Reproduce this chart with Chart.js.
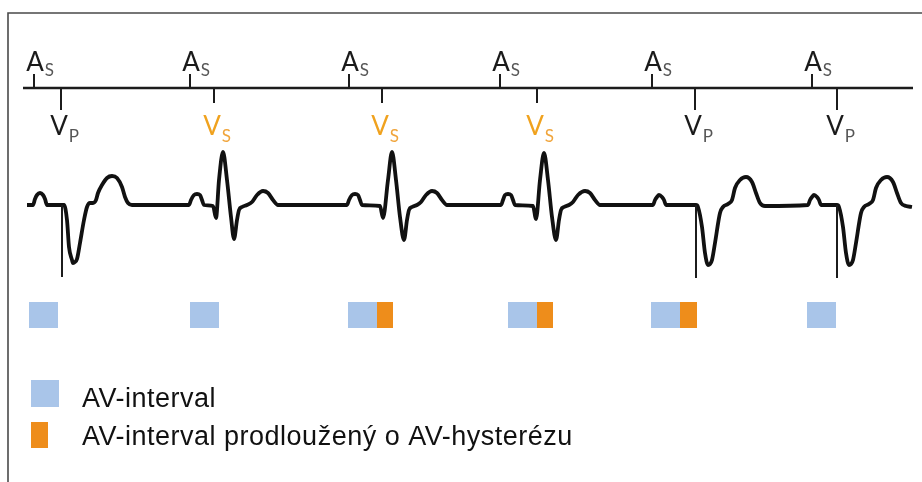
<!DOCTYPE html>
<html>
<head>
<meta charset="utf-8">
<script src="https://cdn.jsdelivr.net/npm/chart.js@4.4.1/dist/chart.umd.min.js"></script>
<style>
  html, body { margin: 0; padding: 0; background: #fff; }
  #wrap { position: relative; width: 922px; height: 482px; }
</style>
</head>
<body>
<div id="wrap"><canvas id="ecg" width="922" height="482"></canvas></div>
<script>
/* ---------- Data (time in ms, amplitude in mV) ---------- */
const ECG_T = [
  // beat 1 (paced)
  135, 165, 175, 185, 200, 215, 225, 235, 310, 320, 335, 345, 360, 365, 375, 385, 400, 420, 435, 450, 465, 480,
  490, 510, 535, 560, 585, 610, 625, 640, 660,
  // beat 2 (sensed)
  945, 955, 970, 985, 1000, 1010, 1020, 1065, 1080, 1095, 1115, 1135, 1155, 1170, 1185, 1195, 1210, 1235,
  1260, 1285, 1315, 1340, 1365, 1390,
  // beat 3 (sensed)
  1735, 1745, 1760, 1775, 1790, 1800, 1810, 1900, 1915, 1940, 1960, 1980, 2000, 2020, 2035, 2045, 2060, 2085,
  2105, 2130, 2160, 2185, 2210, 2235,
  // beat 4 (sensed)
  2505, 2515, 2525, 2540, 2555, 2565, 2575, 2665, 2680, 2700, 2720, 2740, 2760, 2780, 2795, 2805, 2820, 2845,
  2865, 2890, 2925, 2950, 2975, 3000,
  // beat 5 (paced)
  3265, 3275, 3285, 3295, 3310, 3320, 3330, 3480, 3490, 3510, 3525, 3540, 3550, 3560, 3575, 3600, 3615, 3640, 3660,
  3675, 3700, 3730, 3760, 3780, 3800, 3825,
  // beat 6 (paced)
  4040, 4050, 4060, 4070, 4085, 4095, 4105, 4185, 4195, 4215, 4230, 4245, 4255, 4265, 4280, 4305, 4320, 4345, 4365,
  4380, 4405, 4435, 4465, 4485, 4505, 4530, 4560
];
const ECG_MV = [
  0, 0, 0.12, 0.2, 0.24, 0.2, 0.12, 0, 0, 0, -0.3, -0.84, -1.1, -1.16, -1.14, -1.08, -0.76, -0.3, -0.04, 0.04, 0.04, 0.1,
  0.24, 0.4, 0.54, 0.58, 0.54, 0.36, 0.16, 0.04, 0,
  0, 0.1, 0.2, 0.22, 0.2, 0.1, 0, -0.02, -0.26, 0.5, 1.06, 0.5, -0.24, -0.68, -0.3, -0.1, -0.04, 0,
  0.06, 0.2, 0.28, 0.24, 0.1, 0,
  0, 0.1, 0.2, 0.22, 0.2, 0.1, 0, -0.02, -0.26, 0.5, 1.06, 0.5, -0.24, -0.7, -0.3, -0.1, -0.04, 0,
  0.06, 0.2, 0.28, 0.24, 0.1, 0,
  0, 0.1, 0.2, 0.22, 0.2, 0.1, 0, -0.02, -0.28, 0.5, 1.04, 0.5, -0.24, -0.7, -0.3, -0.1, -0.04, 0,
  0.06, 0.2, 0.28, 0.24, 0.1, 0,
  0, 0.1, 0.16, 0.2, 0.16, 0.1, 0, 0, -0.04, -0.44, -0.96, -1.2, -1.18, -1.1, -0.76, -0.16, -0.04, 0.02, 0.1,
  0.34, 0.5, 0.56, 0.46, 0.24, 0.04, -0.02,
  0, 0.1, 0.16, 0.2, 0.16, 0.1, 0, 0, -0.04, -0.44, -0.96, -1.2, -1.18, -1.1, -0.76, -0.16, -0.04, 0.02, 0.1,
  0.34, 0.5, 0.56, 0.46, 0.24, 0.04, -0.02, -0.04
];

// markers on the event line
const ATRIAL_T = [170, 950, 1745, 2500, 3260, 4060];
const ATRIAL_LABEL = ["S", "S", "S", "S", "S", "S"];
const VENT_T = [305, 1070, 1910, 2685, 3475, 4185];
const VENT_LABEL = ["P", "S", "S", "S", "P", "P"];

// pacing spikes (ms) and their depth (mV)
const SPIKE_T = [310, 3480, 4185];
const SPIKE_MV = [-1.44, -1.46, -1.46];

// AV interval bars
const AV_START = [145, 950, 1740, 2540, 3255, 4035];
const AV_END = [290, 1095, 1885, 2685, 3400, 4180];
const HYST_START = [1885, 2685, 3400];
const HYST_END = [1965, 2765, 3485];

const LEGEND_TEXT = ["AV-interval", "AV-interval prodloužený o AV-hysterézu"];

/* ---------- Layout / style ---------- */
const LINE_MV = 2.34;      // event line level
const A_TICK_TOP = 2.62;
const V_TICK_P = 1.9;
const V_TICK_S = 2.04;
const BAR_MV = -2.2;
const BLUE = "#a9c5e9";
const ORANGE = "#ee8d1b";
const INK = "#1c1c1c";

function segs(list) {
  // list of [x0,y0,x1,y1] -> points with gaps
  const out = [];
  list.forEach(s => {
    out.push({x: s[0], y: s[1]}, {x: s[2], y: s[3]}, {x: s[2], y: null});
  });
  return out;
}

const ecgData = ECG_T.map((t, i) => ({x: t, y: ECG_MV[i]}));
const atrialTicks = segs(ATRIAL_T.map(t => [t, LINE_MV, t, A_TICK_TOP]));
const ventTicks = segs(VENT_T.map((t, i) => [t, LINE_MV, t, VENT_LABEL[i] === "P" ? V_TICK_P : V_TICK_S]));
const spikes = segs(SPIKE_T.map((t, i) => [t, 0, t, SPIKE_MV[i]]));
const avBars = segs(AV_START.map((s, i) => [s, BAR_MV, AV_END[i], BAR_MV]));
const hystBars = segs(HYST_START.map((s, i) => [s, BAR_MV, HYST_END[i], BAR_MV]));

/* ---------- Plugins ---------- */
const framePlugin = {
  id: "frame",
  beforeDraw(chart) {
    const ctx = chart.ctx;
    ctx.save();
    ctx.fillStyle = "#fff";
    ctx.fillRect(0, 0, chart.width, chart.height);
    ctx.strokeStyle = "#4a4a4a";
    ctx.lineWidth = 1.6;
    ctx.beginPath();
    ctx.moveTo(8, chart.height);
    ctx.lineTo(8, 13);
    ctx.lineTo(chart.width, 13);
    ctx.stroke();
    ctx.restore();
  }
};

function subLabel(ctx, main, sub, cx, base, subBase, mainColor, subColor) {
  ctx.font = "26px Lato";
  const w = ctx.measureText(main).width;
  ctx.fillStyle = mainColor;
  ctx.textAlign = "left";
  ctx.textBaseline = "alphabetic";
  ctx.fillText(main, cx - w / 2, base);
  ctx.font = "17px Lato";
  ctx.fillStyle = subColor;
  ctx.fillText(sub, cx + w / 2 + 1, subBase);
}

const labelPlugin = {
  id: "eventLabels",
  afterDatasetsDraw(chart) {
    const {ctx, scales: {x, y}} = chart;
    ctx.save();
    ATRIAL_T.forEach((t, i) => {
      subLabel(ctx, "A", ATRIAL_LABEL[i], x.getPixelForValue(t) + 1,
        y.getPixelForValue(2.68), y.getPixelForValue(2.58), "#1a1a1a", "#555");
    });
    VENT_T.forEach((t, i) => {
      const sensed = VENT_LABEL[i] === "S";
      subLabel(ctx, "V", VENT_LABEL[i], x.getPixelForValue(t) - 2,
        y.getPixelForValue(1.4), y.getPixelForValue(1.26),
        sensed ? "#f0a21e" : "#1a1a1a", sensed ? "#f0a43a" : "#555");
    });

    // legend
    ctx.fillStyle = BLUE;
    ctx.fillRect(31, 380, 28, 27);
    ctx.fillStyle = ORANGE;
    ctx.fillRect(31, 422, 17, 26);
    ctx.fillStyle = "#111";
    ctx.font = "27px 'Liberation Sans', Arial, sans-serif";
    ctx.letterSpacing = "0.5px";
    ctx.textAlign = "left";
    ctx.textBaseline = "alphabetic";
    ctx.fillText(LEGEND_TEXT[0], 82, 407);
    ctx.fillText(LEGEND_TEXT[1], 82, 445);
    ctx.letterSpacing = "0px";
    ctx.restore();
  }
};

/* ---------- Chart ---------- */
const barStyle = (color) => ({
  borderColor: color, borderWidth: 26, borderCapStyle: "butt",
  pointRadius: 0, spanGaps: false, tension: 0
});

new Chart(document.getElementById("ecg"), {
  type: "line",
  data: {
    datasets: [
      {label: "AV-interval", data: avBars, ...barStyle(BLUE)},
      {label: "AV-hystereze", data: hystBars, ...barStyle(ORANGE)},
      {label: "event line", data: [{x: 115, y: LINE_MV}, {x: 4565, y: LINE_MV}],
       borderColor: INK, borderWidth: 2.5, pointRadius: 0},
      {label: "A ticks", data: atrialTicks, borderColor: INK, borderWidth: 2, pointRadius: 0, spanGaps: false},
      {label: "V ticks", data: ventTicks, borderColor: INK, borderWidth: 2, pointRadius: 0, spanGaps: false},
      {label: "spikes", data: spikes, borderColor: INK, borderWidth: 2, pointRadius: 0, spanGaps: false},
      {label: "ECG", data: ecgData, borderColor: "#111", borderWidth: 3.8,
       pointRadius: 0, cubicInterpolationMode: "monotone", borderJoinStyle: "round"}
    ]
  },
  options: {
    responsive: false,
    animation: false,
    layout: { padding: 0 },
    plugins: { legend: { display: false }, tooltip: { enabled: false } },
    scales: {
      x: { type: "linear", min: 0, max: 4610, display: false },
      y: { type: "linear", min: -5.54, max: 4.1, display: false }
    }
  },
  plugins: [framePlugin, labelPlugin]
});
</script>
</body>
</html>
